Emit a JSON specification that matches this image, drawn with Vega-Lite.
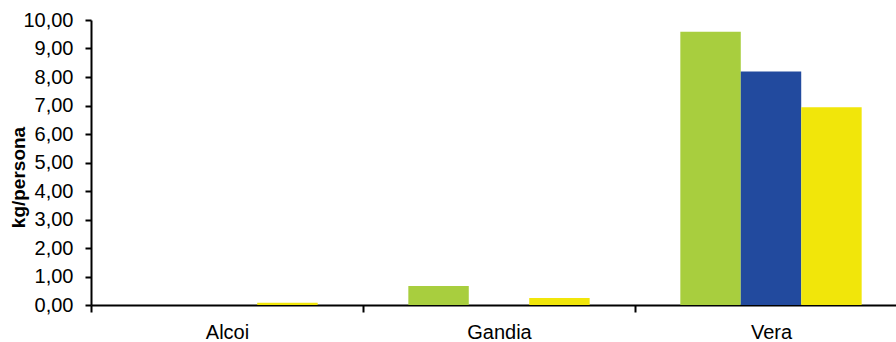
{
  "$schema": "https://vega.github.io/schema/vega-lite/v6.json",
  "width": 816,
  "height": 285,
  "autosize": {"type": "none"},
  "padding": {"left": 91, "top": 20, "right": 0, "bottom": 37},
  "background": "white",
  "data": {
    "values": [
      {"ciudad": "Alcoi", "serie": "s1", "valor": 0.0},
      {"ciudad": "Alcoi", "serie": "s2", "valor": 0.0},
      {"ciudad": "Alcoi", "serie": "s3", "valor": 0.08},
      {"ciudad": "Gandia", "serie": "s1", "valor": 0.67},
      {"ciudad": "Gandia", "serie": "s2", "valor": 0.0},
      {"ciudad": "Gandia", "serie": "s3", "valor": 0.25},
      {"ciudad": "Vera", "serie": "s1", "valor": 9.59},
      {"ciudad": "Vera", "serie": "s2", "valor": 8.19},
      {"ciudad": "Vera", "serie": "s3", "valor": 6.94}
    ]
  },
  "mark": {"type": "bar"},
  "encoding": {
    "x": {
      "field": "ciudad",
      "type": "nominal",
      "sort": ["Alcoi", "Gandia", "Vera"],
      "scale": {"paddingInner": 0, "paddingOuter": 0},
      "axis": {
        "title": null,
        "labelAngle": 0,
        "tickBand": "extent",
        "domainColor": "black",
        "domainWidth": 2,
        "tickColor": "black",
        "tickWidth": 2,
        "tickSize": 7,
        "labelPadding": 10,
        "labelFont": "Liberation Sans",
        "labelFontSize": 20,
        "labelColor": "black"
      }
    },
    "xOffset": {
      "field": "serie",
      "type": "nominal",
      "sort": ["s1", "s2", "s3"],
      "scale": {"paddingInner": 0, "paddingOuter": 0.75}
    },
    "y": {
      "field": "valor",
      "type": "quantitative",
      "scale": {"domain": [0, 10], "nice": false},
      "axis": {
        "title": "kg/persona",
        "titleFont": "Liberation Sans",
        "titleFontSize": 19,
        "titleFontWeight": "bold",
        "titleColor": "black",
        "titleX": -63,
        "titleY": 157,
        "titleBaseline": "bottom",
        "titleAngle": -90,
        "values": [0, 1, 2, 3, 4, 5, 6, 7, 8, 9, 10],
        "labelExpr": "replace(format(datum.value, '.2f'), '.', ',')",
        "grid": false,
        "domainColor": "black",
        "domainWidth": 2,
        "tickColor": "black",
        "tickWidth": 2,
        "tickSize": 6,
        "labelPadding": 12,
        "labelFont": "Liberation Sans",
        "labelFontSize": 20,
        "labelColor": "black"
      }
    },
    "color": {
      "field": "serie",
      "type": "nominal",
      "scale": {"domain": ["s1", "s2", "s3"], "range": ["#A8CE3E", "#224A9E", "#F1E60A"]},
      "legend": null
    }
  },
  "config": {"view": {"stroke": null}}
}
